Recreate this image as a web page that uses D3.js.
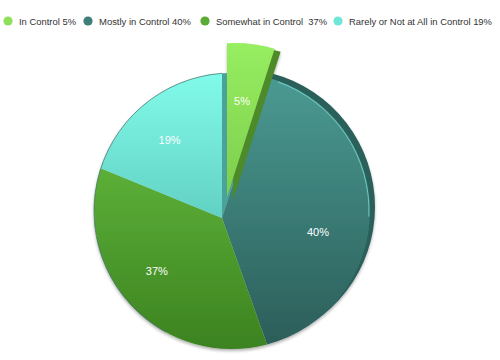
<!DOCTYPE html>
<html><head><meta charset="utf-8">
<script src="https://cdn.jsdelivr.net/npm/d3@7/dist/d3.min.js"></script>
<style>html,body{margin:0;padding:0;background:#fff;}svg{display:block;}</style>
</head><body>
<svg id="chart" width="500" height="360"></svg>
<script>
// ---- data ----
const categories = ["In Control", "Mostly in Control", "Somewhat in Control", "Rarely or Not at All in Control"];
const values = [5, 40, 37, 19];
const legendLabels = ["In Control 5%", "Mostly in Control 40%", "Somewhat in Control  37%", "Rarely or Not at All in Control 19%"];
const sliceLabels = ["5%", "40%", "37%", "19%"];

// ---- styles / layout ----
const faceColors = [["#97ee60", "#7ccd4c"], ["#4a9a92", "#2b5c58"], ["#5fb43a", "#3c8220"], ["#82fbeb", "#5fcdbf"]];
const sideColors = ["#4e8a2b", "#2a5f5a", "#3c7d22", "#4aa39b"];
const legendColors = ["#8ee05a", "#3e7f79", "#5aac37", "#70e6d6"];
const legendX = [8, 88, 205, 338];        // marker centres
const legendW = [57, 92, 111, 143];       // text widths
const labelR = [97, 97, 84, 94];
const labelShiftDeg = [0, 9, 4.5, 0];

const svg = d3.select("#chart");
const P = [222, 218], C = [232, 211], R = 138;
const explodeApex = [5, -21], explodeArc = [3, -30];

const pie = d3.pie().sort(null).value(d => d);
const arcs = pie(values);

function rayPoint(p, c, r, a) {
  const u = [Math.sin(a), -Math.cos(a)];
  const d = [p[0] - c[0], p[1] - c[1]];
  const du = d[0] * u[0] + d[1] * u[1];
  const t = -du + Math.sqrt(du * du - (d[0] * d[0] + d[1] * d[1]) + r * r);
  return [p[0] + t * u[0], p[1] + t * u[1]];
}
function arcAngles(a0, a1, p, c, r) {
  const s = rayPoint(p, c, r, a0), e = rayPoint(p, c, r, a1);
  const sa = Math.atan2(s[1] - c[1], s[0] - c[0]);
  let ea = Math.atan2(e[1] - c[1], e[0] - c[0]);
  while (ea < sa) ea += Math.PI * 2;
  return { s, e, sa, ea };
}
function slicePath(a0, a1, p, c, r) {
  const g = arcAngles(a0, a1, p, c, r);
  const path = d3.path();
  path.moveTo(p[0], p[1]);
  path.lineTo(g.s[0], g.s[1]);
  path.arc(c[0], c[1], r, g.sa, g.ea, false);
  path.closePath();
  return path.toString();
}
function arcOnly(a0, a1, p, c, r) {
  const g = arcAngles(a0, a1, p, c, r);
  const path = d3.path();
  path.moveTo(g.s[0], g.s[1]);
  path.arc(c[0], c[1], r, g.sa, g.ea, false);
  return path.toString();
}

const defs = svg.append("defs");
const gradY = [[43, 200], [78, 350], [150, 350], [73, 230]];
faceColors.forEach((fc, i) => {
  const g = defs.append("linearGradient").attr("id", "g" + i)
    .attr("gradientUnits", "userSpaceOnUse").attr("x1", 0).attr("x2", 0)
    .attr("y1", gradY[i][0]).attr("y2", gradY[i][1]);
  g.append("stop").attr("offset", 0).attr("stop-color", fc[0]);
  g.append("stop").attr("offset", 1).attr("stop-color", fc[1]);
});
const f = defs.append("filter").attr("id", "shadow").attr("x", "-20%").attr("y", "-20%").attr("width", "140%").attr("height", "140%");
f.append("feDropShadow").attr("dx", 0).attr("dy", 2).attr("stdDeviation", 1.5).attr("flood-color", "#000").attr("flood-opacity", 0.3);

const pieG = svg.append("g").attr("filter", "url(#shadow)");

// gap wedge left by the exploded slice (side walls)
pieG.append("path").attr("d", slicePath(arcs[0].startAngle, arcs[0].endAngle, P, C, R)).attr("fill", sideColors[3]);

// side of the big teal slice
pieG.append("path")
  .attr("d", slicePath(arcs[1].startAngle, arcs[1].endAngle, P, C, R))
  .attr("transform", "translate(5,-4)").attr("fill", sideColors[1]);

// faces of non-exploded slices
[1, 2, 3].forEach(i => {
  pieG.append("path").attr("d", slicePath(arcs[i].startAngle, arcs[i].endAngle, P, C, R)).attr("fill", `url(#g${i})`);
});
// rim highlight on teal
pieG.append("path").attr("d", arcOnly(arcs[1].startAngle + 0.08, arcs[1].startAngle + 1.25, P, C, R - 1))
  .attr("fill", "none").attr("stroke", "#7fe3d8").attr("stroke-width", 1).attr("opacity", 0.75);
// dark rim on cyan/green top-left
pieG.append("path").attr("d", arcOnly(arcs[2].startAngle + 0.8, arcs[3].endAngle, P, C, R))
  .attr("fill", "none").attr("stroke", "#3f6f68").attr("stroke-width", 0.9).attr("opacity", 0.8);

// exploded slice
const P2 = [P[0] + explodeApex[0], P[1] + explodeApex[1]];
const C2 = [C[0] + explodeArc[0], C[1] + explodeArc[1]];
pieG.append("path").attr("d", slicePath(arcs[0].startAngle, arcs[0].endAngle, P2, C2, R))
  .attr("transform", "translate(6,3)").attr("fill", sideColors[0]);
pieG.append("path").attr("d", slicePath(arcs[0].startAngle, arcs[0].endAngle, P2, C2, R))
  .attr("fill", "url(#g0)");

// labels
arcs.forEach((a, i) => {
  const mid = (a.startAngle + a.endAngle) / 2 + labelShiftDeg[i] * Math.PI / 180;
  const base = i === 0 ? P2 : P;
  svg.append("text")
    .attr("x", base[0] + labelR[i] * Math.sin(mid))
    .attr("y", base[1] - labelR[i] * Math.cos(mid))
    .attr("text-anchor", "middle").attr("dominant-baseline", "central")
    .attr("font-family", "Liberation Sans, Arial, Helvetica, sans-serif")
    .attr("font-size", 11).attr("fill", "#ffffff")
    .text(sliceLabels[i]);
});

// legend
const lg = svg.append("g");
legendLabels.forEach((t, i) => {
  lg.append("circle").attr("cx", legendX[i]).attr("cy", 21).attr("r", 4.6).attr("fill", legendColors[i]);
  lg.append("text").attr("x", legendX[i] + 11).attr("y", 21)
    .attr("dominant-baseline", "central")
    .attr("font-family", "Liberation Sans, Arial, Helvetica, sans-serif")
    .attr("font-size", 9.6).attr("fill", "#333").style("white-space", "pre")
    .attr("textLength", legendW[i]).attr("lengthAdjust", "spacingAndGlyphs")
    .text(t);
});
</script>
</body></html>
